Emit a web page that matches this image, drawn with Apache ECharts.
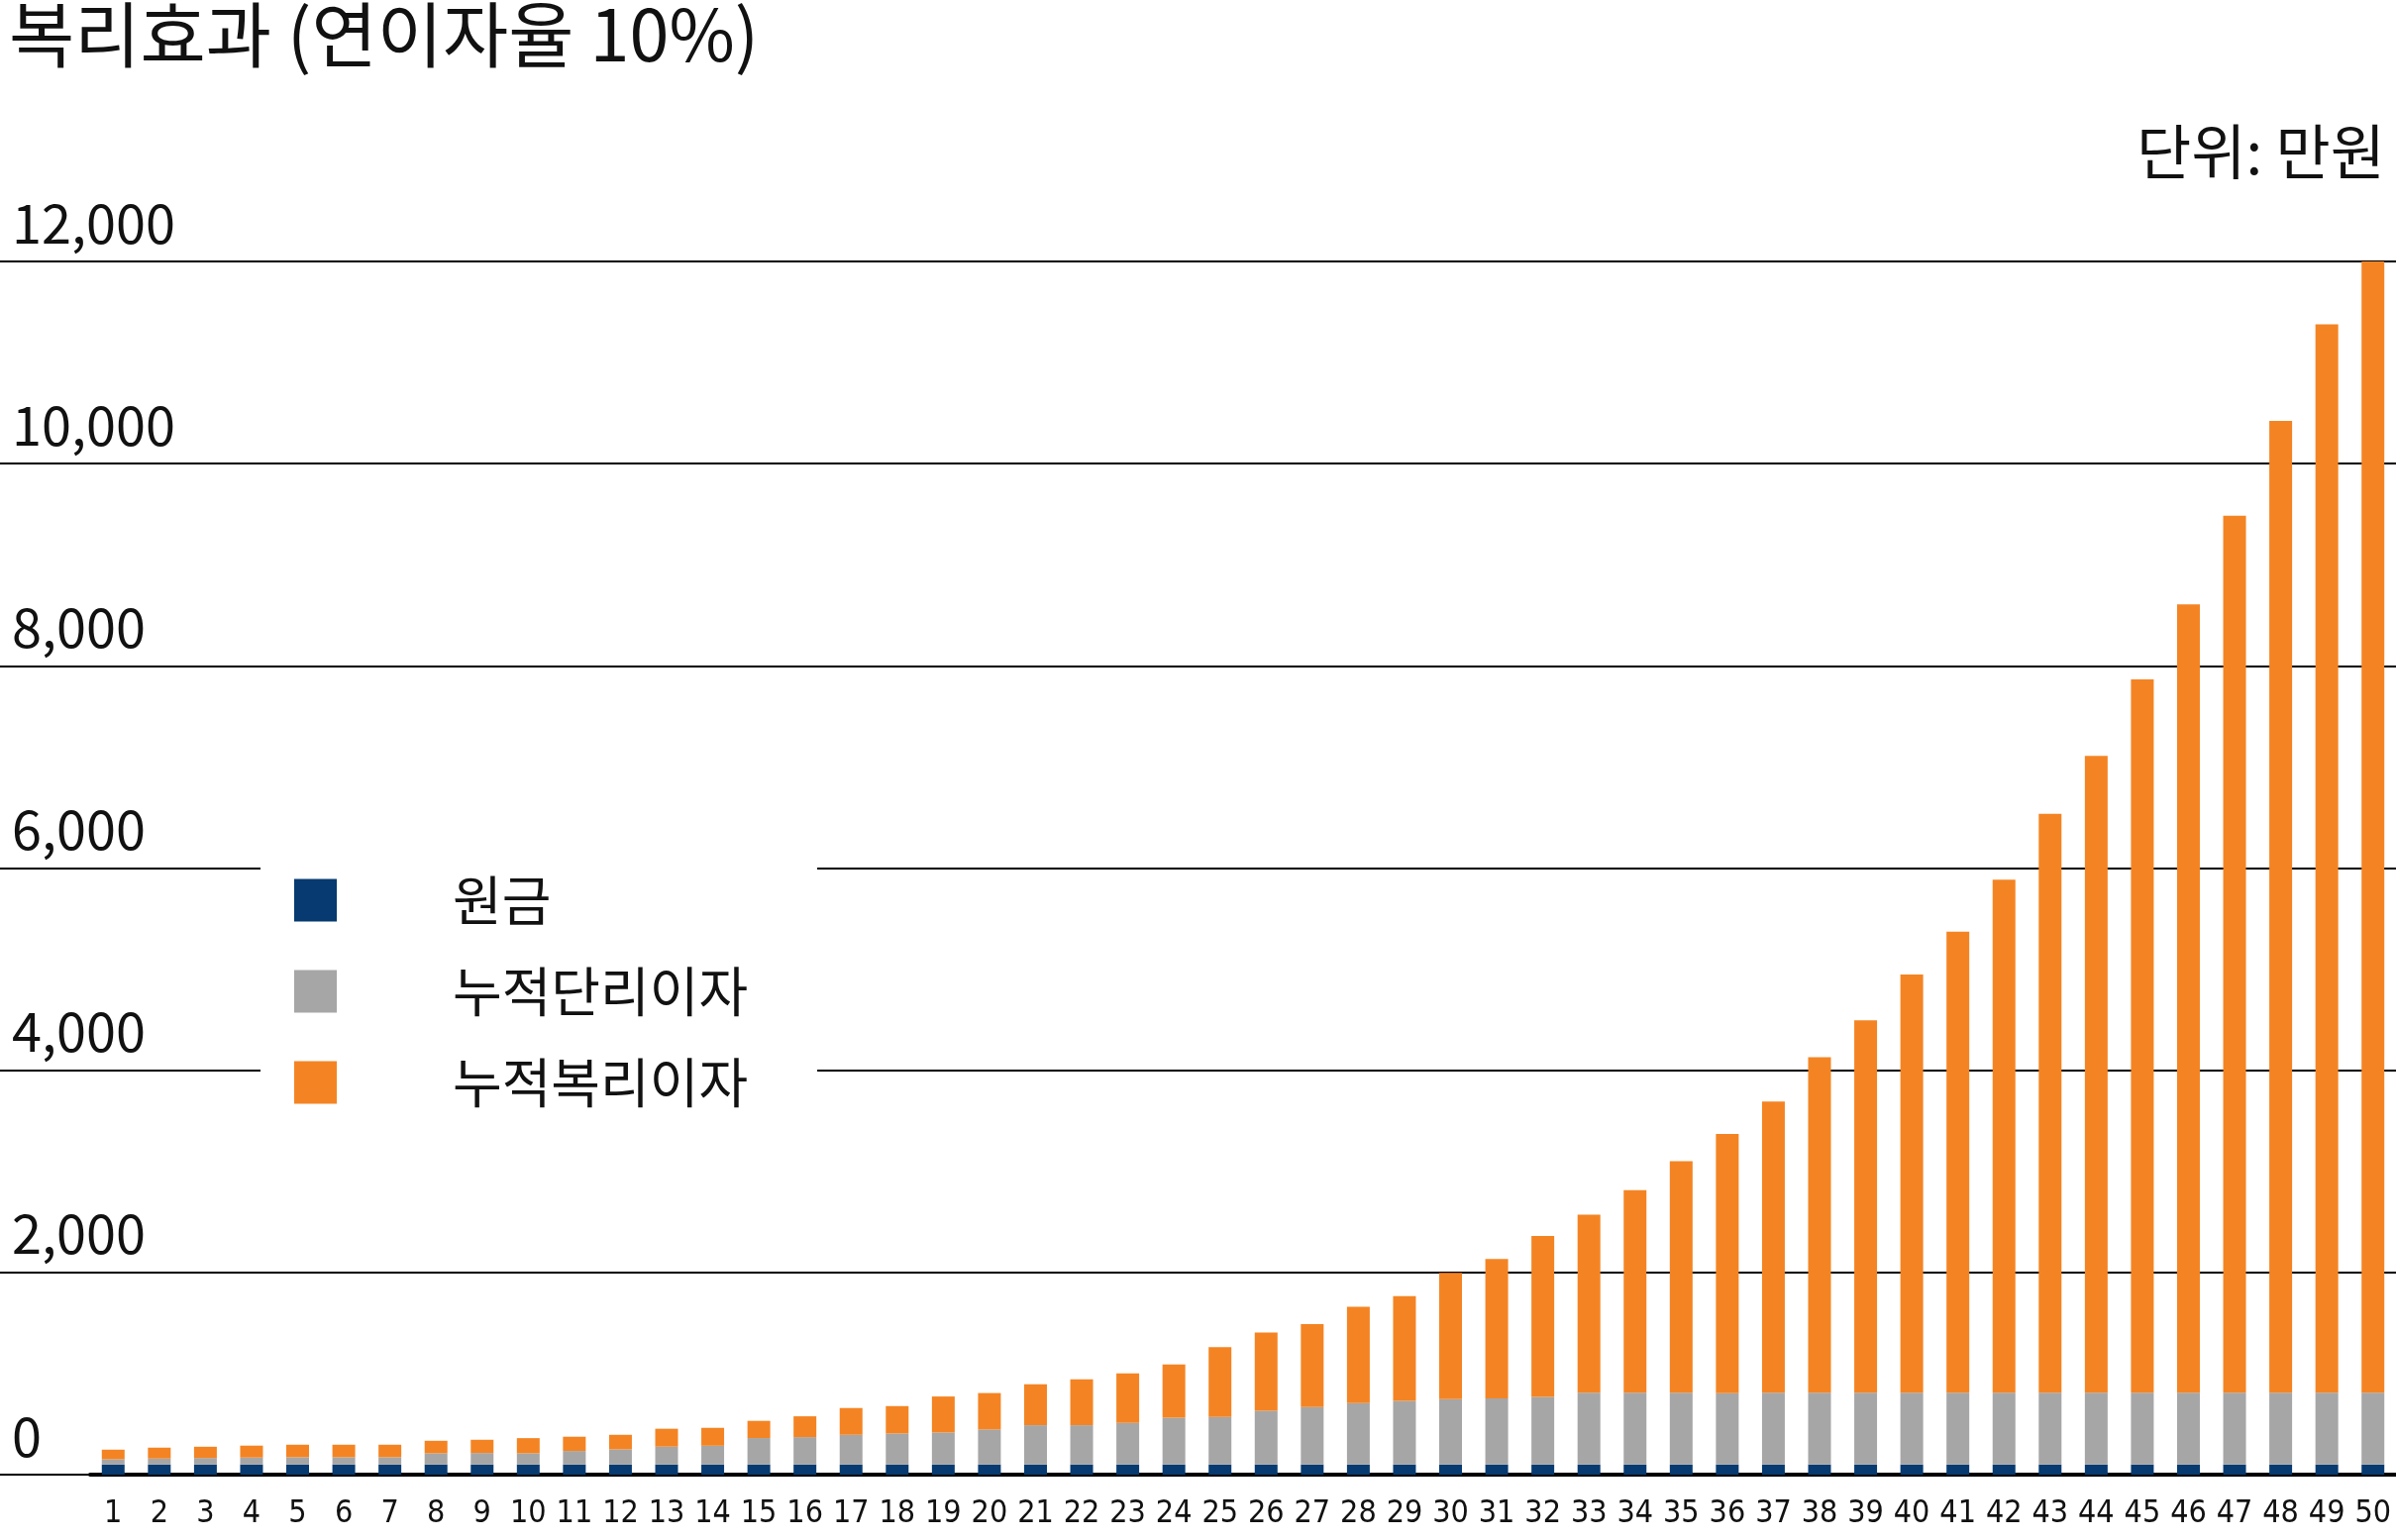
<!DOCTYPE html>
<html><head><meta charset="utf-8">
<script src="https://cdn.jsdelivr.net/npm/echarts@6/dist/echarts.min.js"></script>
<style>html,body{margin:0;padding:0;background:#fff}#c{width:2419px;height:1555px}</style>
</head><body><div id="c"></div>
<script>
const years = Array.from({length:50},(_,i)=>String(i+1));
const principal = [100,100,100,100,100,100,100,100,100,100,100,100,100,100,100,100,100,100,100,100,100,100,100,100,100,100,100,100,100,100,100,100,100,100,100,100,100,100,100,100,100,100,100,100,100,100,100,100,100,100];
const simpleInterest = [52,59,65,69,72,72,72,111,114,111,134,150,177,186,262,271,294,307,317,347,389,389,412,464,471,533,569,608,631,647,654,670,710,710,710,705,710,710,710,710,710,710,710,710,710,710,710,710,710,710];
const compoundInterest = [95,108,111,118,124,124,124,124,131,150,141,144,177,177,170,206,265,271,356,360,405,455,490,526,690,773,819,953,1035,1250,1379,1590,1762,2004,2291,2564,2881,3320,3683,4137,4561,5075,5726,6300,7057,7798,8675,9613,10567,11190];
const yTicks = [0,2000,4000,6000,8000,10000,12000];
const names = ['원금','누적단리이자','누적복리이자'];
const font = "'Noto Sans CJK KR', 'Noto Sans', sans-serif";
const chart = echarts.init(document.getElementById('c'));
const barW = 23;
chart.setOption({
  animation:false,
  backgroundColor:'#fff',
  title:[
    {text:'복리효과 (연이자율 10%)',left:4,top:-6,textStyle:{fontFamily:font,fontSize:72,fontWeight:'normal',color:'#111'}},
    {text:'단위: 만원',right:6,top:118,textStyle:{fontFamily:font,fontSize:60,fontWeight:'normal',color:'#111'}}
  ],
  legend:{
    orient:'vertical',left:263,top:862,
    data:names,itemWidth:43,itemHeight:43,itemGap:38,
    icon:'rect',backgroundColor:'#fff',padding:[20,70,18,34],
    textStyle:{fontFamily:font,fontSize:54,color:'#111',padding:[0,0,0,112]},
    z:10
  },
  grid:[
    {left:91,right:0,top:264,bottom:66},
    {left:0,right:0,top:264,bottom:66}
  ],
  xAxis:[
    {type:'category',data:years,gridIndex:0,
     axisLine:{lineStyle:{color:'#000',width:4}},axisTick:{show:false},
     axisLabel:{fontFamily:"'Liberation Sans Narrow', 'DejaVu Sans Condensed', sans-serif",fontSize:32,color:'#111',margin:24,interval:0}},
    {type:'value',gridIndex:1,min:0,max:1,show:false}
  ],
  yAxis:[
    {type:'value',gridIndex:0,min:0,max:12000,interval:2000,
     splitLine:{show:false},axisLine:{show:false},axisTick:{show:false},
     axisLabel:{align:'left',margin:79,verticalAlign:'bottom',padding:[0,0,12,0],fontFamily:font,fontSize:54,color:'#111',
       customValues:yTicks}},
    {type:'value',gridIndex:1,min:0,max:12000,interval:2000,
     axisLabel:{show:false},axisLine:{show:false},axisTick:{show:false},
     splitLine:{show:true,lineStyle:{color:'#000',width:2}}}
  ],
  series:[
    {name:names[0],type:'bar',stack:'a',data:principal,barWidth:barW,itemStyle:{color:'#063A70'}},
    {name:names[1],type:'bar',stack:'a',data:simpleInterest,barWidth:barW,itemStyle:{color:'#A6A6A6'}},
    {name:names[2],type:'bar',stack:'a',data:compoundInterest,barWidth:barW,itemStyle:{color:'#F48423'}}
  ]
});
</script></body></html>
